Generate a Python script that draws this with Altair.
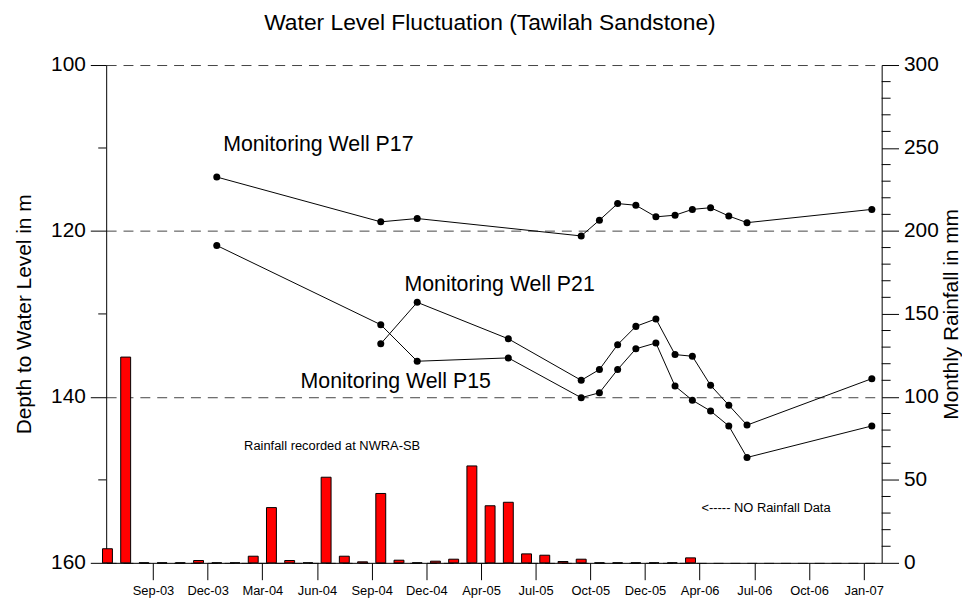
import json
import altair as alt
import pandas as pd

# ---- data ----
# monthly rainfall (mm); one bar per month index k = 0..32
rain_k = list(range(33))
rain_mm = [8.5, 124, 0, 0, 0, 1.4, 0, 0, 4, 33.3, 1.4, 0, 51.6, 4, 0.6, 41.8,
           1.6, 0, 1.0, 2.2, 58.4, 34.4, 36.5, 5.4, 4.6, 0.8, 2.2, 0, 0, 0, 0, 0, 3.0]

# depth to water level (m) for the three monitoring wells, x in month index
p17_k = [6, 15, 17, 26, 27, 28, 29, 30.1, 31.15, 32.1, 33.1, 34.1, 35.1, 41.95]
p17_d = [113.5, 118.9, 118.5, 120.6, 118.7, 116.7, 116.9, 118.3, 118.1, 117.4, 117.2, 118.2, 119.0, 117.4]
p21_k = [15, 17, 22, 26, 27, 28, 29, 30.1, 31.15, 32.1, 33.1, 34.1, 35.1, 41.95]
p21_d = [133.6, 128.6, 133.0, 138.0, 136.7, 133.7, 131.5, 130.6, 134.9, 135.1, 138.6, 141.0, 143.4, 137.8]
p15_k = [6, 15, 17, 22, 26, 27, 28, 29, 30.1, 31.15, 32.1, 33.1, 34.1, 35.1, 41.95]
p15_d = [121.75, 131.3, 135.7, 135.3, 140.1, 139.5, 136.7, 134.2, 133.5, 138.7, 140.4, 141.7, 143.5, 147.3, 143.5]

x_tick_pos = [2.5, 5.5, 8.5, 11.5, 14.5, 17.5, 20.5, 23.5, 26.5, 29.5, 32.5, 35.5, 38.5, 41.5]
x_tick_labels = ["Sep-03", "Dec-03", "Mar-04", "Jun-04", "Sep-04", "Dec-04", "Apr-05",
                 "Jul-05", "Oct-05", "Dec-05", "Apr-06", "Jul-06", "Oct-06", "Jan-07"]

depth_major = [100, 120, 140, 160]
depth_minor = [110, 130, 150]
rain_major = [0, 50, 100, 150, 200, 250, 300]
rain_minor = [10, 20, 30, 40, 60, 70, 80, 90, 110, 120, 130, 140, 160, 170, 180, 190,
              210, 220, 230, 240, 260, 270, 280, 290]

big_labels = ["Monitoring Well P17", "Monitoring Well P21", "Monitoring Well P15"]
big_k = [6.35, 16.3, 10.6]
big_d = [109.6, 126.5, 138.25]
small_labels = ["Rainfall recorded at NWRA-SB", "<----- NO Rainfall Data"]
small_k = [7.5, 32.6]
small_d = [145.9, 153.4]

FONT = "Liberation Sans"
W, H = 782, 502
BAR_HALF = 0.272  # half bar width in month units (10 px)

# ---- tables ----
rain_df = pd.DataFrame({"k": rain_k, "rain": rain_mm})
wells_df = pd.concat([
    pd.DataFrame({"series": "P17", "k": p17_k, "d": p17_d}),
    pd.DataFrame({"series": "P21", "k": p21_k, "d": p21_d}),
    pd.DataFrame({"series": "P15", "k": p15_k, "d": p15_d}),
])
rain_minor_df = pd.DataFrame({"v": rain_minor})
depth_minor_df = pd.DataFrame({"v": depth_minor})
big_df = pd.DataFrame({"t": big_labels, "k": big_k, "d": big_d})
small_df = pd.DataFrame({"t": small_labels, "k": small_k, "d": small_d})

x_scale = alt.Scale(domain=[-0.07, 42.49], nice=False, zero=False)
label_expr = f"{json.dumps(x_tick_labels)}[round((datum.value - 2.5) / 3)]"
x_axis = alt.Axis(values=x_tick_pos, labelExpr=label_expr, title=None, grid=False,
                  tickSize=17, labelFontSize=13, labelPadding=5, labelColor="black",
                  domainColor="black", tickColor="black", labelFont=FONT,
                  labelOverlap=False, labelFlush=False)
x_enc = alt.X("k:Q", scale=x_scale, axis=x_axis)

rain_scale = alt.Scale(domain=[0, 300], nice=False, zero=True, padding=0)
depth_scale = alt.Scale(domain=[100, 160], nice=False, zero=False, reverse=True)

right_axis = alt.Axis(orient="right", values=rain_major, title="Monthly Rainfall in mm",
                      titleFontSize=21, titleFontWeight="normal", titleAngle=270,
                      titleBaseline="top", titlePadding=2, titleColor="black", titleFont=FONT,
                      tickSize=17, labelFontSize=21, labelPadding=5, labelColor="black",
                      labelFont=FONT, domainColor="black", tickColor="black", grid=False)
left_axis = alt.Axis(orient="left", values=depth_major, title="Depth to Water Level in m",
                     titleFontSize=21, titleFontWeight="normal", titlePadding=16,
                     titleColor="black", titleFont=FONT,
                     tickSize=16, labelFontSize=21, labelPadding=5, labelColor="black",
                     labelFont=FONT, domainColor="black", tickColor="black",
                     grid=True, gridDash=[10, 7], gridColor="#444444", gridWidth=1)

bars = alt.Chart(rain_df).transform_calculate(
    k0=f"datum.k - {BAR_HALF}", k1=f"datum.k + {BAR_HALF}"
).mark_rect(color="#FF0000", stroke="black", strokeWidth=1).encode(
    x=alt.X("k0:Q", scale=x_scale, axis=x_axis),
    x2="k1:Q",
    y=alt.Y("rain:Q", scale=rain_scale, axis=right_axis),
    y2=alt.datum(0),
)
rain_ticks = alt.Chart(rain_minor_df).mark_rule(color="black", strokeWidth=1).encode(
    y=alt.Y("v:Q", scale=rain_scale, axis=right_axis),
    x=alt.value(W), x2=alt.value(W + 9),
)
rain_group = alt.layer(bars, rain_ticks)

lines = alt.Chart(wells_df).mark_line(color="black", strokeWidth=1).encode(
    x=x_enc,
    y=alt.Y("d:Q", scale=depth_scale, axis=left_axis),
    detail="series:N",
)
points = alt.Chart(wells_df).mark_circle(size=50, color="black", opacity=1).encode(
    x=x_enc,
    y=alt.Y("d:Q", scale=depth_scale, axis=left_axis),
    detail="series:N",
)
depth_ticks = alt.Chart(depth_minor_df).mark_rule(color="black", strokeWidth=1).encode(
    y=alt.Y("v:Q", scale=depth_scale, axis=left_axis),
    x=alt.value(-8), x2=alt.value(0),
)
big_text = alt.Chart(big_df).mark_text(align="left", baseline="middle", fontSize=21.5,
                                       font=FONT, color="black").encode(
    x=x_enc, y=alt.Y("d:Q", scale=depth_scale, axis=left_axis), text="t:N")
small_text = alt.Chart(small_df).mark_text(align="left", baseline="middle", fontSize=13,
                                           font=FONT, color="black").encode(
    x=x_enc, y=alt.Y("d:Q", scale=depth_scale, axis=left_axis), text="t:N")
depth_group = alt.layer(lines, points, depth_ticks, big_text, small_text)

chart = alt.layer(rain_group, depth_group).resolve_scale(y="independent").properties(
    width=W, height=H,
    title=alt.TitleParams("Water Level Fluctuation (Tawilah Sandstone)", fontSize=23,
                          fontWeight="normal", font=FONT, color="black", anchor="middle",
                          offset=19, dx=-4),
    autosize=alt.AutoSizeParams(type="none"),
    padding={"left": 99, "top": 55, "right": 81, "bottom": 39},
).configure(font=FONT).configure_view(stroke=None)

chart.save("out.html", embed_options={"renderer": "svg", "actions": False})
